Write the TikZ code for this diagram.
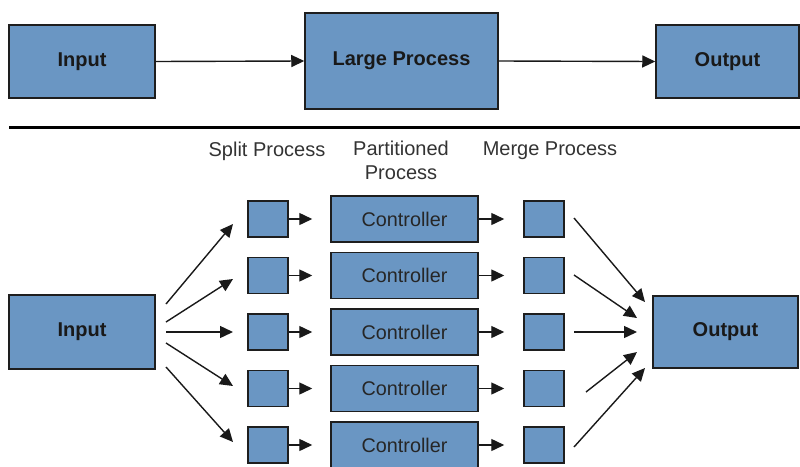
\documentclass[tikz,border=0pt]{standalone}
\usepackage{fontspec}
\setmainfont{Liberation Sans}
\usetikzlibrary{arrows.meta}
\definecolor{boxfill}{HTML}{6A96C3}
\definecolor{boxline}{HTML}{1E1E1E}
\definecolor{labelgray}{HTML}{333333}
\tikzset{
  bigbox/.style={draw=boxline, line width=1.5pt, fill=boxfill, inner sep=0pt, font=\fontsize{20}{24}\selectfont\bfseries, text=black!90},
  ctrlbox/.style={draw=boxline, line width=1.5pt, fill=boxfill, inner sep=0pt, minimum width=147pt, minimum height=46pt, font=\fontsize{19.8}{24}\selectfont, text=black!85},
  sqbox/.style={draw=boxline, line width=1.5pt, fill=boxfill, inner sep=0pt, minimum width=40pt, minimum height=36pt},
  lbl/.style={font=\fontsize{20}{24}\selectfont, text=labelgray, inner sep=0pt, align=center},
  arr/.style={draw=black!90, line width=1.4pt, -{Triangle[length=13pt,width=12pt]}},
}
\begin{document}
\begin{tikzpicture}[x=1pt,y=-1pt]
\useasboundingbox (0,0) rectangle (800,466);
% top row
\node[bigbox, minimum width=146pt, minimum height=73pt] (tin) at (82,61.5) {Input};
\node[bigbox, minimum width=193pt, minimum height=96pt] (tlp) at (401.5,61) {Large Process};
\node[bigbox, minimum width=143pt, minimum height=73pt] (tout) at (727.5,61.5) {Output};
\draw[arr] (tin.east) -- (tlp.west);
\draw[arr] (tlp.east) -- (tout.west);
% separator
\coordinate (sepL) at (9,127);
\coordinate (sepR) at (800,127);
\draw[line width=3pt, black] (sepL) -- (sepR);
% labels
\node[lbl] (lsplit) at (267,151) {Split Process};
\node[lbl] (lpart) at (401,160) {Partitioned\\Process};
\node[lbl] (lmerge) at (550,151) {Merge Process};
% bottom
\node[bigbox, minimum width=146pt, minimum height=74pt] (bin) at (82,332) {Input};
\node[bigbox, minimum width=145pt, minimum height=72pt] (bout) at (725.5,332) {Output};
\foreach \i/\y in {1/219,2/275.5,3/332,4/388.5,5/445}{
  \node[sqbox] (s\i) at (268,\y) {};
  \node[ctrlbox] (c\i) at (404.5,\y) {Controller};
  \node[sqbox] (m\i) at (544,\y) {};
  \draw[arr, shorten >=18pt] (s\i.east) -- (c\i.west);
  \draw[arr, shorten >=19pt] (c\i.east) -- (m\i.west);
}
% fan out from input
\coordinate (a1) at (166,304); \coordinate (b1) at (233,224);
\coordinate (a2) at (166,322); \coordinate (b2) at (233,279);
\coordinate (a3) at (166,332); \coordinate (b3) at (233,332);
\coordinate (a4) at (166,343); \coordinate (b4) at (233,386);
\coordinate (a5) at (166,367); \coordinate (b5) at (233,442);
% fan in to output
\coordinate (p1) at (574,218); \coordinate (q1) at (645,302);
\coordinate (p2) at (574,275); \coordinate (q2) at (637,318);
\coordinate (p3) at (574,332); \coordinate (q3) at (637,332);
\coordinate (p4) at (586,392); \coordinate (q4) at (637,352);
\coordinate (p5) at (574,447); \coordinate (q5) at (645,368);
\foreach \i in {1,...,5}{
  \draw[arr] (a\i) -- (b\i);
  \draw[arr] (p\i) -- (q\i);
}
\end{tikzpicture}
\end{document}
